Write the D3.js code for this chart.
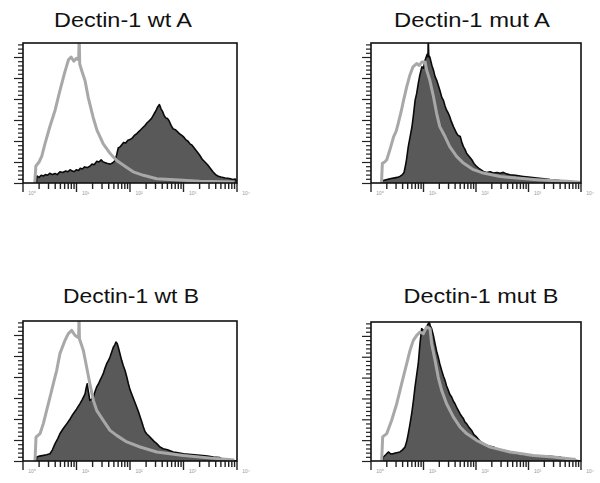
<!DOCTYPE html>
<html>
<head>
<meta charset="utf-8">
<script src="https://cdn.jsdelivr.net/npm/d3@7"></script>
<style>
  body { margin: 0; background: #fff; }
  svg { display: block; font-family: "Liberation Sans", Arial, sans-serif; }
</style>
</head>
<body>
<svg id="chart"></svg>
<script>
// panel titles and the x-axis decade labels (fluorescence, log scale)
const titles = ["Dectin-1 wt A", "Dectin-1 mut A", "Dectin-1 wt B", "Dectin-1 mut B"];
const decades = [0, 1, 2, 3, 4];
const decadeLabels = ["10\u2070", "10\u00b9", "10\u00b2", "10\u00b3", "10\u2074"];

// each series: [log10 fluorescence, % of max count]
// grey line = isotype control, dark fill = dectin-1 stain
const isoWtA = [[0.22,0],[0.24,12],[0.3,15],[0.35,19],[0.41,28],[0.5,40],[0.6,52],[0.69,66],[0.78,79],[0.85,88],[0.9,90],[0.95,87],[1.0,89],[1.04,88],[1.05,104],[1.06,85],[1.1,80],[1.16,73],[1.22,61],[1.31,47],[1.38,38],[1.5,28],[1.63,21],[1.75,16],[1.94,11],[2.06,8],[2.25,5.5],[2.5,3],[3.0,2],[3.3,1.2],[3.95,0.7]];
const stainWtA = [[0.25,0],[0.26,5],[0.3,4],[0.34,5.5],[0.38,5],[0.42,6],[0.46,5.5],[0.5,7],[0.55,6],[0.6,6.8],[0.64,6],[0.69,8],[0.74,7.5],[0.8,8.5],[0.84,8],[0.88,9.5],[0.92,8.5],[0.96,8.2],[1.0,9.5],[1.04,9],[1.07,10.5],[1.11,10],[1.15,11.5],[1.2,11],[1.25,12],[1.29,13.5],[1.33,13],[1.38,15.5],[1.42,15],[1.46,16.5],[1.5,15],[1.54,14.5],[1.58,14],[1.63,13.5],[1.68,14.5],[1.72,16],[1.75,20],[1.78,25],[1.82,26],[1.85,27.5],[1.88,29],[1.92,28.5],[1.96,30.5],[2.0,31],[2.04,32],[2.08,34],[2.12,35],[2.16,36.5],[2.2,38],[2.25,40],[2.28,41],[2.32,43],[2.36,44.5],[2.4,46],[2.43,48],[2.46,50],[2.49,52],[2.52,54.5],[2.55,56],[2.58,53],[2.61,51],[2.64,48],[2.67,46.5],[2.7,46],[2.73,44.5],[2.77,41],[2.81,38.5],[2.85,38],[2.89,36.5],[2.93,35],[2.97,34],[3.0,33],[3.04,31],[3.08,30],[3.12,28],[3.16,27],[3.2,25],[3.25,22.5],[3.3,20],[3.35,17],[3.4,15],[3.45,13],[3.5,10.5],[3.55,8],[3.6,6],[3.65,4.8],[3.7,4.3],[3.78,3.6],[3.86,3.2],[3.92,2.5],[3.97,2.8],[4.0,0]];

const isoMutA = [[0.2,0],[0.216,14],[0.26,15],[0.3,16.6],[0.36,23.7],[0.43,33],[0.48,37],[0.52,42.7],[0.58,52],[0.62,59],[0.68,68.7],[0.74,77],[0.8,83],[0.87,85.3],[0.92,84],[0.97,86.5],[1.03,86.5],[1.06,80.6],[1.12,73.5],[1.19,61.6],[1.25,49.8],[1.31,40.3],[1.41,33.2],[1.5,26],[1.63,19],[1.76,14.2],[1.95,9.5],[2.14,7.1],[2.46,4.7],[2.77,3.5],[3.16,2.4],[3.73,1.2],[3.98,0.5]];
const stainMutA = [[0.2,0],[0.203,1.2],[0.25,2],[0.3,2.4],[0.36,3],[0.43,3.5],[0.5,4],[0.55,4.7],[0.6,6],[0.63,7.5],[0.67,15],[0.71,26],[0.74,32],[0.78,40],[0.81,49],[0.84,59],[0.87,64],[0.9,71],[0.93,77],[0.97,83],[1.0,82],[1.03,87.7],[1.07,92],[1.085,90],[1.09,104],[1.1,91],[1.12,90],[1.16,84],[1.19,80.6],[1.22,76],[1.25,73.5],[1.28,70],[1.31,66.4],[1.35,61],[1.38,59],[1.41,55],[1.44,52],[1.47,50],[1.5,47.4],[1.53,44],[1.57,40.3],[1.6,38],[1.63,35.5],[1.66,34],[1.7,33.2],[1.73,29],[1.76,26],[1.79,24],[1.82,21.3],[1.87,19],[1.92,16.6],[1.96,14],[2.01,11.8],[2.07,10],[2.14,8.3],[2.2,7.5],[2.27,8],[2.33,7.1],[2.4,7.5],[2.46,7],[2.52,7.6],[2.58,6.5],[2.65,5.9],[2.75,5.5],[2.9,4.7],[3.0,4.2],[3.16,3.5],[3.3,3],[3.41,2.4],[3.55,2],[3.66,1.2],[3.8,1],[3.98,0.5],[4.0,0]];

const isoWtB = [[0.224,0],[0.243,17],[0.318,19.5],[0.38,26.7],[0.442,36.2],[0.505,45.7],[0.567,55.2],[0.63,64.8],[0.69,76.7],[0.785,86.2],[0.847,91],[0.91,93.3],[0.97,89.8],[1.016,88.6],[1.04,88],[1.047,104],[1.055,87],[1.065,86.2],[1.128,79],[1.19,67],[1.25,55.2],[1.315,43.3],[1.377,36.2],[1.5,29],[1.626,21.9],[1.75,18.3],[1.94,13.6],[2.19,10],[2.5,6.4],[3.0,4],[3.62,1.7],[3.95,0.8]];
const stainWtB = [[0.25,0],[0.255,2.9],[0.31,3.5],[0.38,4],[0.44,4.5],[0.505,5.2],[0.55,8],[0.6,12.4],[0.65,16],[0.69,19.5],[0.75,23],[0.82,26.7],[0.88,30],[0.94,33.8],[1.0,37],[1.065,41],[1.11,44],[1.16,48],[1.18,52],[1.2,55.2],[1.22,50],[1.25,43.3],[1.28,44],[1.315,45.7],[1.35,50],[1.377,52.9],[1.41,55],[1.44,57.6],[1.47,60],[1.5,62.4],[1.53,66],[1.564,69.5],[1.6,72],[1.626,74.3],[1.66,78],[1.69,81.4],[1.715,83],[1.738,85],[1.76,84],[1.78,81.4],[1.81,77],[1.844,71.9],[1.875,68],[1.906,64.8],[1.94,60],[1.97,55.2],[2.0,51],[2.03,48],[2.08,43],[2.125,38.6],[2.16,35],[2.19,31.4],[2.22,28],[2.25,24.3],[2.28,21],[2.31,19.5],[2.35,18],[2.4,16],[2.45,14],[2.5,12.4],[2.56,10],[2.62,8.8],[2.7,8],[2.81,6.4],[2.9,5.8],[3.0,5.2],[3.15,4.6],[3.31,4],[3.45,3.5],[3.56,2.9],[3.68,2.4],[3.75,1],[3.9,0.5],[4.0,0]];

const isoMutB = [[0.203,0],[0.222,17.3],[0.3,19.7],[0.394,29.3],[0.49,41.2],[0.584,55.6],[0.68,70],[0.743,79.6],[0.806,86.8],[0.87,90.4],[0.933,92.8],[0.997,91.6],[1.06,96.4],[1.124,95.2],[1.155,84.4],[1.22,72.4],[1.28,60.4],[1.346,50.8],[1.44,41.2],[1.568,31.7],[1.695,24.5],[1.82,19.7],[2.01,14.9],[2.27,10],[2.65,6.5],[3.09,4],[3.47,2.9],[3.9,1]];
const stainMutB = [[0.22,0],[0.235,2.9],[0.28,4.5],[0.33,6.5],[0.38,5],[0.425,5.3],[0.49,6],[0.552,6.5],[0.6,8],[0.648,10],[0.68,14],[0.71,19.7],[0.74,26],[0.775,34],[0.81,44],[0.838,53.2],[0.87,62],[0.9,70],[0.933,84.4],[0.965,95.2],[1.0,94],[1.03,92.8],[1.073,97.6],[1.11,100],[1.13,97],[1.155,95.2],[1.19,90],[1.22,84.4],[1.25,79],[1.28,74.8],[1.31,70],[1.346,65.2],[1.38,61],[1.41,58],[1.44,54],[1.473,50.8],[1.5,48],[1.536,46],[1.57,43],[1.6,41.2],[1.644,37.6],[1.695,34],[1.73,32],[1.76,30.5],[1.79,28],[1.82,26.9],[1.87,24],[1.917,22],[1.96,19],[2.01,17.3],[2.07,14.5],[2.14,12.5],[2.23,11],[2.33,10],[2.42,8.5],[2.52,7.7],[2.65,6.5],[2.77,5.3],[2.93,4.6],[3.09,4],[3.25,3.6],[3.41,3.4],[3.5,3],[3.6,2.9],[3.66,1.7],[3.8,0.8],[4.0,0]];

const panels = [
  { title: titles[0], iso: isoWtA,  stain: stainWtA,  x: 23,  y: 43,  w: 214, h: 140, tx: 123, ty: 27,  tw: 138 },
  { title: titles[1], iso: isoMutA, stain: stainMutA, x: 371, y: 43,  w: 210, h: 140, tx: 472, ty: 27,  tw: 156 },
  { title: titles[2], iso: isoWtB,  stain: stainWtB,  x: 23,  y: 321, w: 214, h: 140, tx: 131, ty: 303, tw: 136 },
  { title: titles[3], iso: isoMutB, stain: stainMutB, x: 371, y: 322, w: 210, h: 139, tx: 481, ty: 303, tw: 155 }
];

const width = 600, height = 483;
const svg = d3.select("#chart").attr("width", width).attr("height", height);

svg.append("g")
  .selectAll("text")
  .data(panels)
  .join("text")
  .attr("x", d => d.tx)
  .attr("y", d => d.ty)
  .attr("text-anchor", "middle")
  .attr("font-size", 21)
  .attr("textLength", d => d.tw)
  .attr("lengthAdjust", "spacingAndGlyphs")
  .attr("fill", "#111")
  .text(d => d.title);

panels.forEach((p, i) => {
  const x = d3.scaleLog().domain([1, 1e4]).range([0, p.w]);
  const y = d3.scaleLinear().domain([0, 100]).range([p.h, 0]);
  const g = svg.append("g").attr("transform", `translate(${p.x},${p.y})`);

  g.append("clipPath").attr("id", "clip" + i)
    .append("rect").attr("width", p.w).attr("height", p.h);

  const px = d => x(Math.pow(10, d[0]));
  const area = d3.area().x(px).y0(p.h).y1(d => y(d[1]));
  const line = d3.line().x(px).y(d => y(d[1]));

  const plot = g.append("g").attr("clip-path", `url(#clip${i})`);
  plot.append("path").datum(p.stain)
    .attr("d", area).attr("fill", "#595959");
  plot.append("path").datum(p.stain)
    .attr("d", line).attr("fill", "none")
    .attr("stroke", "#0a0a0a").attr("stroke-width", 1.6).attr("stroke-linejoin", "round");
  plot.append("path").datum(p.iso)
    .attr("d", line).attr("fill", "none")
    .attr("stroke", "#a8a8a8").attr("stroke-width", 3).attr("stroke-linejoin", "round");

  // left count axis: dense comb of minor ticks, longer majors
  const yTicks = d3.range(0, 100.1, 3);
  g.append("g").selectAll("line")
    .data(yTicks)
    .join("line")
    .attr("x1", d => (d % 15 === 0 ? -9 : -5)).attr("x2", 0)
    .attr("y1", d => y(d) + 0.5).attr("y2", d => y(d) + 0.5)
    .attr("stroke", "#222").attr("stroke-width", 1.2);

  // bottom log axis
  const xTicks = x.ticks();
  g.append("g").selectAll("line")
    .data(xTicks)
    .join("line")
    .attr("x1", d => x(d)).attr("x2", d => x(d))
    .attr("y1", p.h).attr("y2", d => p.h + (Math.log10(d) % 1 === 0 ? 9 : 6))
    .attr("stroke", "#222").attr("stroke-width", 1.4);

  g.append("g").selectAll("text")
    .data(decades)
    .join("text")
    .attr("x", d => x(Math.pow(10, d)) + 9)
    .attr("y", p.h + 12)
    .attr("text-anchor", "middle")
    .attr("font-size", 5)
    .attr("fill", "#999")
    .text(d => decadeLabels[d]);

  g.append("rect")
    .attr("width", p.w).attr("height", p.h)
    .attr("fill", "none").attr("stroke", "#111").attr("stroke-width", 1.6);
});
</script>
</body>
</html>
